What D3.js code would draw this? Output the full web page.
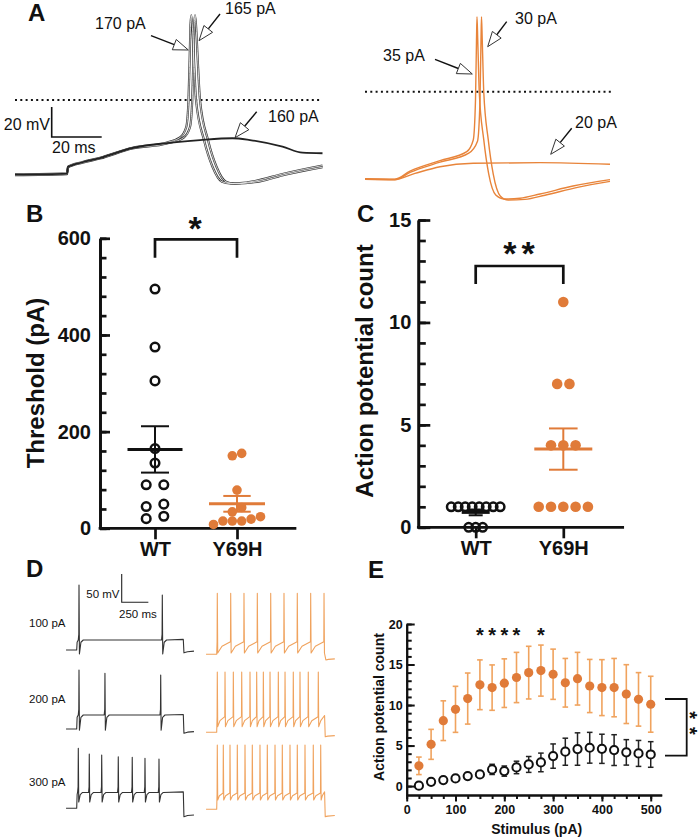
<!DOCTYPE html>
<html><head><meta charset="utf-8">
<script src="https://cdn.jsdelivr.net/npm/d3@7"></script>
<style>
body{margin:0;background:#fff}
svg{display:block}
text{font-family:"Liberation Sans",Arial,Helvetica,sans-serif}
</style>
</head><body>
<svg id="fig" width="700" height="838"></svg>
<script>
// ---------------- DATA ----------------
const groups = ["WT", "Y69H"];

// Panel B: threshold current (pA)
const thresholdWT   = [495, 375, 305, 165, 135, 90, 90, 50, 45, 25, 20];
const thresholdY69H = [155, 150, 79, 43, 34, 24, 19, 15, 15, 15, 8];
const thresholdTicks = [0, 200, 400, 600];

// Panel C: action potential count
const apCountWT   = [1, 1, 1, 1, 1, 1, 1, 1, 0, 0, 0];
const apCountY69H = [11, 7, 7, 4, 4, 4, 1, 1, 1, 1, 1];
const apCountTicks = [0, 5, 10, 15];

// Panel E: AP count vs stimulus
const stimulus = [25, 50, 75, 100, 125, 150, 175, 200, 225, 250, 275, 300, 325, 350, 375, 400, 425, 450, 475, 500];
const countY69H = [2.5, 5.15, 8.07, 9.47, 10.8, 12.5, 12.15, 12.7, 13.4, 14.0, 14.25, 13.8, 12.75, 13.25, 12.35, 12.15, 12.15, 11.35, 10.7, 10.1];
const semY69H   = [1.08, 1.85, 2.45, 2.84, 3.15, 3.07, 2.8, 3.0, 3.1, 3.25, 3.15, 3.1, 3.0, 3.25, 3.28, 3.45, 3.6, 3.63, 3.3, 3.45];
const countWT   = [0.05, 0.53, 0.74, 0.95, 1.23, 1.44, 2.06, 1.85, 2.3, 2.67, 2.92, 3.7, 4.24, 4.57, 4.73, 4.6, 4.44, 4.16, 4.03, 3.9];
const semWT     = [0, 0, 0.05, 0.05, 0.1, 0.3, 0.63, 0.63, 0.77, 0.98, 1.15, 1.5, 1.67, 2.0, 1.9, 1.8, 1.9, 1.57, 1.6, 1.58];
const sigStimuli = [150, 175, 200, 225, 275];
const stimTicks = [0, 100, 200, 300, 400, 500];
const countTicksE = [0, 5, 10, 15, 20];

// Panel A: voltage traces [ms, mV]
const traceWT160 = [[0,-49.8],[20.8,-49.1],[21.2,-44.7],[27,-41.5],[34,-38.7],[47,-32],[60.8,-28.7],[74,-26.7],[87,-25.5],[94,-26.7],[107,-31.1],[115,-35.1],[123,-35.5]];
const traceWT170 = [[0,-49.6],[20.8,-48.9],[21.2,-44.5],[27,-41.3],[34,-38.5],[47,-31.8],[60.8,-28.3],[66,-25],[68.5,-18],[69.4,0],[69.9,30],[70.2,50],[70.5,56.5],[70.9,50],[71.5,30],[72.4,0],[75.6,-26.7],[79,-44.5],[82.8,-54.5],[86,-55.6],[90,-55.4],[96,-54],[107,-49.3],[123,-43.7]];
const traceWT165 = [[0,-50.1],[20.8,-49.4],[21.2,-45],[27,-41.8],[34,-39],[47,-32.3],[60.8,-29],[67.5,-25],[70,-18],[70.9,0],[71.4,30],[71.7,50],[72,56.5],[72.4,50],[73,30],[74,0],[77.2,-26.7],[80.6,-44.5],[84.4,-54.5],[88,-55.8],[92,-55.5],[98,-54.2],[108,-49.8],[123,-44.8]];
const traceY20 = [[0,-58.2],[12,-58.5],[20,-54.5],[30,-50],[43.3,-47.7],[70,-47.3],[98,-48.4]];
const traceY35 = [[0,-58],[12,-58.3],[18,-53],[30,-46],[40.7,-40],[43.3,-32.2],[44.2,-5.5],[44.6,34.5],[44.8,50],[45.1,34.5],[45.7,0],[47.5,-32],[49.5,-55],[52.3,-68.9],[55.5,-71.5],[62,-71],[70,-68.2],[83.2,-62.9],[98,-58.6]];
const traceY30 = [[0,-58.4],[12,-58.7],[18,-53.8],[30,-47],[41.5,-41],[45,-33],[46,-5.5],[46.4,34.5],[46.6,50],[46.9,34.5],[47.5,0],[49.3,-32],[51.3,-55],[54.1,-69.5],[57.3,-72.2],[64,-71.8],[72,-69],[85,-63.8],[98,-59.8]];
const labelsA = [
  {text:"170 pA", tail:[151,35.7], tip:[188.3,50], tx:95, ty:28.5},
  {text:"165 pA", tail:[220,14], tip:[199,40.7], tx:225, ty:13.5},
  {text:"160 pA", tail:[256.7,111.7], tip:[235,137.7], tx:268, ty:121.7},
  {text:"30 pA", tail:[506.7,21.7], tip:[487.7,46.7], tx:515, ty:24},
  {text:"35 pA", tail:[435,59.3], tip:[472.3,74], tx:383, ty:61},
  {text:"20 pA", tail:[571.7,128.3], tip:[550.7,154.3], tx:575, ty:128.3}
];

// Panel D: spike trains (ms, mV)
const stimLabelsD = ["100 pA", "200 pA", "300 pA"];
const spikesWT = [
  {times:[121.6, 903], peaks:[44.8, 27.2], plateau:-52.3, ahp:-77, post:-75, off:1100},
  {times:[121.6, 365, 888], peaks:[34.2, 28.4, 25.4], plateau:-45.3, ahp:-72, post:-77.6, off:1100},
  {times:[115, 218, 334.5, 490, 621, 740.6, 872], peaks:[36, 26, 24.2, 21.2, 20.1, 18.4, 17.1], plateau:-42, ahp:-59, post:-84.8, off:1100}
];
const spikesY69H = [
  {times:[105.6, 231.3, 356, 481, 606.6, 731.3, 856, 981.6, 1106.8], peak:37.8, pre:-47.7, ahp:-67.7, post:-80, off:1118},
  {times:[105.6, 178, 256, 334.6, 412.4, 475, 537.6, 600.2, 678, 741, 818.5, 881.4, 959, 1053], peak:36.5, pre:-42.4, ahp:-60, post:-77.8, off:1112},
  {times:[105.6, 162, 224.8, 293.3, 365.5, 434, 506, 574.7, 647, 715.4, 787.6, 856, 928.3, 1006, 1075.6], peak:43.6, pre:-41.2, ahp:-53.6, post:-83, off:1112}
];

// ---------------- STYLE ----------------
const ORANGE = "#E07B39";
const ORANGE_LIGHT = "#F0A35E";
const ORANGE_TRACE = "#E8843A";
const DARK = "#111";

const svg = d3.select("#fig");
svg.append("rect").attr("width", 700).attr("height", 838).attr("fill", "#fff");

// panel letters
[["A",28,21],["B",26,222],["C",357,222],["D",26,577],["E",368,578]].forEach(([t,x,y]) =>
  svg.append("text").attr("x", x).attr("y", y).text(t)
    .attr("font-size", 24).attr("font-weight", "bold").attr("fill", DARK));

// ---------------- PANEL A ----------------
const gA = svg.append("g");
const xAL = d3.scaleLinear([0, 20], [15, 65]);
const yAL = d3.scaleLinear([0, 20], [100, 70]);
const xAR = d3.scaleLinear([0, 20], [365, 415]);
const yAR = d3.scaleLinear([0, 20], [91.7, 61.7]);
const lineL = d3.line().x(d => xAL(d[0])).y(d => yAL(d[1])).curve(d3.curveMonotoneX);
const lineR = d3.line().x(d => xAR(d[0])).y(d => yAR(d[1])).curve(d3.curveMonotoneX);

gA.append("line").attr("x1", 15).attr("x2", 320).attr("y1", yAL(0)).attr("y2", yAL(0))
  .attr("stroke", DARK).attr("stroke-width", 2).attr("stroke-dasharray", "2,3.3");
gA.append("line").attr("x1", 365).attr("x2", 613).attr("y1", yAR(0)).attr("y2", yAR(0))
  .attr("stroke", DARK).attr("stroke-width", 2).attr("stroke-dasharray", "2,3.3");

[traceWT170, traceWT165].forEach(tr => {
  gA.append("path").attr("d", lineL(tr)).attr("fill", "none").attr("stroke", "#333").attr("stroke-width", 2.2);
});
[traceWT170, traceWT165].forEach(tr => {
  gA.append("path").attr("d", lineL(tr)).attr("fill", "none").attr("stroke", "#fff").attr("stroke-width", 0.8);
});
gA.append("path").attr("d", lineL(traceWT160)).attr("fill", "none").attr("stroke", "#222").attr("stroke-width", 1.8);

[traceY20, traceY35, traceY30].forEach(tr => {
  gA.append("path").attr("d", lineR(tr)).attr("fill", "none").attr("stroke", ORANGE_TRACE).attr("stroke-width", 1.4);
});

const sbx = 51.7, sby = 137;
gA.append("path")
  .attr("d", `M${sbx},${sby - (yAL(0) - yAL(20))}V${sby}H${sbx + (xAL(20) - xAL(0))}`)
  .attr("fill", "none").attr("stroke", DARK).attr("stroke-width", 1.6);
gA.append("text").attr("x", 50).attr("y", 130).attr("text-anchor", "end").text("20 mV")
  .attr("font-size", 16).attr("fill", DARK);
gA.append("text").attr("x", 52).attr("y", 153).text("20 ms")
  .attr("font-size", 16).attr("fill", DARK);

function drawArrow(g, tail, tip) {
  const dx = tip[0] - tail[0], dy = tip[1] - tail[1];
  const len = Math.hypot(dx, dy), ux = dx / len, uy = dy / len;
  const L = 15, w = 5.5;
  const bx = tip[0] - ux * L, by = tip[1] - uy * L;
  g.append("line").attr("x1", tail[0]).attr("y1", tail[1]).attr("x2", bx).attr("y2", by)
    .attr("stroke", DARK).attr("stroke-width", 1.4);
  g.append("path")
    .attr("d", `M${tip[0]},${tip[1]}L${bx - uy * w},${by + ux * w}L${bx + uy * w},${by - ux * w}Z`)
    .attr("fill", "#fff").attr("stroke", "#333").attr("stroke-width", 1);
}
labelsA.forEach(l => {
  drawArrow(gA, l.tail, l.tip);
  gA.append("text").attr("x", l.tx).attr("y", l.ty).text(l.text).attr("font-size", 16).attr("fill", DARK);
});

// ---------------- helpers for B/C ----------------
function swarm(values, y, opt) {
  const pts = values.map(v => ({v, py: y(v)})).sort((a, b) => a.v - b.v);
  const grs = [];
  pts.forEach(p => {
    const g = grs[grs.length - 1];
    if (g && Math.abs(p.py - g[g.length - 1].py) < opt.gap) g.push(p); else grs.push([p]);
  });
  const out = [];
  grs.forEach(g => {
    for (let i = 0; i < g.length; i += opt.maxRow) {
      const row = g.slice(i, i + opt.maxRow);
      row.forEach((p, j) => out.push({v: p.v, dx: (j - (row.length - 1) / 2) * opt.spacing}));
    }
  });
  return out;
}
function meanSem(vals) {
  const m = d3.mean(vals), s = d3.deviation(vals) / Math.sqrt(vals.length);
  return {m, s};
}
function styleAxis(g, w, fs) {
  g.selectAll(".domain").attr("stroke", DARK).attr("stroke-width", w);
  g.selectAll(".tick line").attr("stroke", DARK).attr("stroke-width", w);
  g.selectAll("text").attr("font-size", fs).attr("font-weight", "bold").attr("fill", DARK)
    .attr("font-family", '"Liberation Sans",Arial,sans-serif');
}
function dotPlot(cfg) {
  const g = svg.append("g");
  const {y, x, ax, axEnd, axW} = cfg;
  const gMin = g.append("g").attr("transform", `translate(${ax},0)`)
    .call(d3.axisLeft(y).tickValues(cfg.minor).tickSize(-cfg.minorLen).tickSizeOuter(0).tickFormat(""));
  styleAxis(gMin, axW, 20);
  const gMaj = g.append("g").attr("transform", `translate(${ax},0)`)
    .call(d3.axisLeft(y).tickValues(cfg.major).tickSize(-cfg.majorLen).tickSizeOuter(0).tickPadding(cfg.pad));
  styleAxis(gMaj, axW, 20);
  const y0 = y.range()[0];
  g.append("line").attr("x1", ax).attr("x2", axEnd).attr("y1", y0).attr("y2", y0)
    .attr("stroke", DARK).attr("stroke-width", axW).attr("stroke-linecap", "square");
  const gx = g.append("g").attr("transform", `translate(0,${y0})`)
    .call(d3.axisBottom(x).tickSize(11).tickPadding(2.5).tickSizeOuter(0));
  gx.select(".domain").remove();
  styleAxis(gx, axW, 20);
  g.append("text").attr("transform", `translate(${cfg.titleX},${cfg.titleY}) rotate(-90)`)
    .attr("text-anchor", "middle").text(cfg.title)
    .attr("font-size", 24).attr("font-weight", "bold").attr("fill", DARK);
  cfg.series.forEach(s => {
    const cx = x(s.group);
    const pts = swarm(s.values, y, s.swarm);
    const ms = meanSem(s.values);
    const col = s.open ? DARK : ORANGE;
    g.append("line").attr("x1", cx - s.meanHalf).attr("x2", cx + s.meanHalf)
      .attr("y1", y(ms.m)).attr("y2", y(ms.m)).attr("stroke", col).attr("stroke-width", 3);
    g.append("line").attr("x1", cx).attr("x2", cx).attr("y1", y(ms.m + ms.s)).attr("y2", y(ms.m - ms.s))
      .attr("stroke", col).attr("stroke-width", 2);
    [ms.m + ms.s, ms.m - ms.s].forEach(v =>
      g.append("line").attr("x1", cx - s.capHalf).attr("x2", cx + s.capHalf)
        .attr("y1", y(v)).attr("y2", y(v)).attr("stroke", col).attr("stroke-width", 2));
    g.selectAll(null).data(pts).join("circle")
      .attr("cx", d => cx + d.dx).attr("cy", d => y(d.v))
      .attr("r", s.r)
      .attr("fill", s.open ? "none" : ORANGE)
      .attr("stroke", s.open ? DARK : "none")
      .attr("stroke-width", s.open ? 2.5 : 0);
  });
  const xa = x(groups[0]), xb = x(groups[1]);
  g.append("path").attr("d", `M${xa},${cfg.brBottom}V${cfg.brTop}H${xb}V${cfg.brBottom}`)
    .attr("fill", "none").attr("stroke", DARK).attr("stroke-width", axW);
  const n = cfg.stars;
  for (let i = 0; i < n; i++) {
    g.append("text").attr("x", cfg.starX + (i - (n - 1) / 2) * 18.3).attr("y", cfg.starY)
      .attr("text-anchor", "middle").text("*")
      .attr("font-size", 34).attr("font-weight", "bold").attr("fill", DARK);
  }
}

dotPlot({
  y: d3.scaleLinear([0, 600], [528.3, 238.3]),
  x: d3.scalePoint(groups, [155, 237]),
  ax: 100, axEnd: 295, axW: 2.7,
  major: thresholdTicks, minor: d3.range(0, 601, 40),
  majorLen: 10, minorLen: 6.5, pad: 9,
  title: "Threshold (pA)", titleX: 44, titleY: 383,
  brTop: 239.3, brBottom: 257.7, stars: 1, starY: 239.5, starX: 195,
  series: [
    {group: "WT", values: thresholdWT, open: true, r: 4.3, meanHalf: 27.5, capHalf: 14,
     swarm: {gap: 6, spacing: 17.6, maxRow: 6}},
    {group: "Y69H", values: thresholdY69H, open: false, r: 4.8, meanHalf: 28, capHalf: 13.7,
     swarm: {gap: 6, spacing: 9.4, maxRow: 6}}
  ]
});

dotPlot({
  y: d3.scaleLinear([0, 15], [527.3, 220]),
  x: d3.scalePoint(groups, [475.7, 563.3]),
  ax: 418.3, axEnd: 622.7, axW: 2.7,
  major: apCountTicks, minor: d3.range(0, 16, 1),
  majorLen: 12, minorLen: 7.5, pad: 7,
  title: "Action potential count", titleX: 373, titleY: 371,
  brTop: 266, brBottom: 284, stars: 2, starY: 264.5, starX: 519,
  series: [
    {group: "WT", values: apCountWT, open: true, r: 4.2, meanHalf: 14, capHalf: 7,
     swarm: {gap: 6, spacing: 7, maxRow: 10}},
    {group: "Y69H", values: apCountY69H, open: false, r: 5.3, meanHalf: 29, capHalf: 14.3,
     swarm: {gap: 6, spacing: 12.3, maxRow: 6}}
  ]
});

// ---------------- PANEL D ----------------
const gD = svg.append("g");
const kD = 0.1066;
const xDW = d3.scaleLinear([0, 1000], [66.04, 66.04 + 1000 * kD]);
const xDY = d3.scaleLinear([0, 1000], [206.04, 206.04 + 1000 * kD]);
const rowBaseWT = [650, 729, 808.3];
const rowBaseY = [654.3, 732.3, 809.3];
const mvPx = 28.3 / 50;
const REST = -70, ON = 100, END = 1200;

function traceWT(c) {
  const pts = [[0, REST], [ON, REST], [ON + 4, c.plateau - 4]];
  c.times.forEach((t, i) => {
    pts.push([t - 7, c.plateau], [t - 2, c.plateau + 10], [t, c.peaks[i]], [t + 4, c.ahp], [t + 18, c.plateau - 4], [t + 40, c.plateau]);
  });
  pts.push([c.off, c.plateau + 1], [c.off + 6, c.post], [c.off + 40, c.post + 2], [END, c.post + 3]);
  return pts;
}
function traceY(c) {
  const pts = [[0, REST], [ON, REST]];
  c.times.forEach((t, i) => {
    if (i > 0) {
      const tp = c.times[i - 1];
      pts.push([tp + 0.35 * (t - tp), c.ahp + 0.6 * (c.pre - c.ahp)]);
    }
    pts.push([t - 2, c.pre], [t, c.peak], [t + 4, c.ahp]);
  });
  const tl = c.times[c.times.length - 1];
  if (c.off - tl > 20) pts.push([tl + 0.4 * (c.off - tl), c.ahp + 0.6 * (c.pre - c.ahp)], [c.off, c.pre + 2]);
  pts.push([c.off + 6, c.post], [c.off + 30, c.post + 1], [END + 8, c.post + 2]);
  return pts;
}
spikesWT.forEach((c, i) => {
  const y = d3.scaleLinear([REST, REST + 50], [rowBaseWT[i], rowBaseWT[i] - 50 * mvPx]);
  gD.append("path").attr("d", d3.line().x(d => xDW(d[0])).y(d => y(d[1]))(traceWT(c)))
    .attr("fill", "none").attr("stroke", "#333").attr("stroke-width", 1.1).attr("stroke-linejoin", "round");
});
spikesY69H.forEach((c, i) => {
  const y = d3.scaleLinear([REST, REST + 50], [rowBaseY[i], rowBaseY[i] - 50 * mvPx]);
  gD.append("path").attr("d", d3.line().x(d => xDY(d[0])).y(d => y(d[1]))(traceY(c)))
    .attr("fill", "none").attr("stroke", ORANGE_LIGHT).attr("stroke-width", 1.1).attr("stroke-linejoin", "round");
});
[627, 702.5, 786].forEach((yy, i) =>
  gD.append("text").attr("x", 29).attr("y", yy).text(stimLabelsD[i]).attr("font-size", 11.5).attr("fill", DARK));
gD.append("path").attr("d", `M121.7,${602.3 - 50 * mvPx}V602.3H${121.7 + 250 * kD}`)
  .attr("fill", "none").attr("stroke", "#222").attr("stroke-width", 1.1);
gD.append("text").attr("x", 119.5).attr("y", 597.5).attr("text-anchor", "end").text("50 mV").attr("font-size", 11.5).attr("fill", DARK);
gD.append("text").attr("x", 119).attr("y", 618).text("250 ms").attr("font-size", 11.5).attr("fill", DARK);

// ---------------- PANEL E ----------------
const gE = svg.append("g");
const xE = d3.scaleLinear([0, 522.5], [406.7, 661.7]);
const yE = d3.scaleLinear([-1.1, 20], [795, 624]);
const axWE = 2;
{
  const gMin = gE.append("g").attr("transform", "translate(406.7,0)")
    .call(d3.axisLeft(yE).tickValues(d3.range(0, 21, 1)).tickSize(-5).tickSizeOuter(0).tickFormat(""));
  styleAxis(gMin, axWE, 12.5);
  const gMaj = gE.append("g").attr("transform", "translate(406.7,0)")
    .call(d3.axisLeft(yE).tickValues(countTicksE).tickSize(-8).tickSizeOuter(0).tickPadding(4));
  styleAxis(gMaj, axWE, 12.5);
  const gxMin = gE.append("g").attr("transform", "translate(0,795)")
    .call(d3.axisBottom(xE).tickValues(d3.range(0, 501, 25)).tickSize(4).tickSizeOuter(0).tickFormat(""));
  styleAxis(gxMin, axWE, 12.5);
  const gxMaj = gE.append("g").attr("transform", "translate(0,795)")
    .call(d3.axisBottom(xE).tickValues(stimTicks).tickSize(6.5).tickSizeOuter(0).tickPadding(4));
  styleAxis(gxMaj, axWE, 12.5);
}
gE.append("text").attr("x", 536.7).attr("y", 833.5).attr("text-anchor", "middle").text("Stimulus (pA)")
  .attr("font-size", 14).attr("font-weight", "bold").attr("fill", DARK);
gE.append("text").attr("transform", "translate(383.5,707) rotate(-90)").attr("text-anchor", "middle")
  .text("Action potential count").attr("font-size", 14).attr("font-weight", "bold").attr("fill", DARK);

function errSeries(means, sems, color, width) {
  stimulus.forEach((s, i) => {
    if (sems[i] <= 0) return;
    const cx = xE(s), top = yE(means[i] + sems[i]), bot = yE(means[i] - sems[i]);
    gE.append("line").attr("x1", cx).attr("x2", cx).attr("y1", top).attr("y2", bot).attr("stroke", color).attr("stroke-width", width);
    [top, bot].forEach(yy => gE.append("line").attr("x1", cx - 2.8).attr("x2", cx + 2.8).attr("y1", yy).attr("y2", yy)
      .attr("stroke", color).attr("stroke-width", width));
  });
}
errSeries(countY69H, semY69H, ORANGE_LIGHT, 1.6);
errSeries(countWT, semWT, "#222", 1.5);
gE.selectAll(null).data(stimulus).join("circle")
  .attr("cx", d => xE(d)).attr("cy", (d, i) => yE(countY69H[i])).attr("r", 4.6).attr("fill", ORANGE);
gE.selectAll(null).data(stimulus).join("circle")
  .attr("cx", d => xE(d)).attr("cy", (d, i) => yE(countWT[i])).attr("r", 4.1)
  .attr("fill", "#fff").attr("stroke", DARK).attr("stroke-width", 2);
sigStimuli.forEach(s => gE.append("text").attr("x", xE(s)).attr("y", 641.5).attr("text-anchor", "middle")
  .text("*").attr("font-size", 20).attr("font-weight", "bold").attr("fill", DARK));
gE.append("path").attr("d", "M665,699H686.7V755.7H665").attr("fill", "none").attr("stroke", DARK).attr("stroke-width", 1.8);
// stacked stars as one rotated text
gE.append("text").attr("transform", "translate(682.8,727) rotate(90)").attr("text-anchor", "middle")
  .attr("letter-spacing", 8).text("**").attr("font-size", 20).attr("font-weight", "bold").attr("fill", DARK);
</script>
</body></html>
